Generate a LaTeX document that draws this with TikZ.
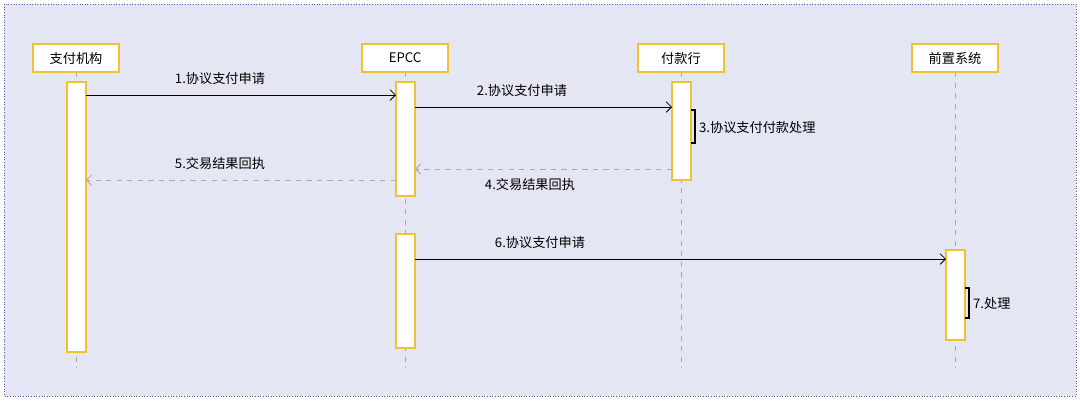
\documentclass[tikz,border=0pt]{standalone}
\usepackage{fontspec}
\setmainfont{Noto Sans CJK SC}
\usetikzlibrary{arrows.meta}
\definecolor{bg}{HTML}{E4E7F3}
\definecolor{yel}{HTML}{F2C12E}
\definecolor{ln}{HTML}{A8A8B0}
\tikzset{
 hdr/.style={draw=yel,fill=white,line width=0.6pt,minimum width=86*0.02cm,minimum height=28*0.02cm,inner sep=0pt,font=\fontsize{7.5}{8}\selectfont},
 act/.style={draw=yel,fill=white,line width=0.6pt},
 life/.style={draw=ln,dashed,line width=0.4pt},
 msg/.style={-{Straight Barb[length=3pt]},line width=0.5pt},
 ret/.style={-{Straight Barb[length=3pt]},ln,dashed,line width=0.5pt},
 lbl/.style={font=\fontsize{7.5}{8}\selectfont,inner sep=1pt},
}
\begin{document}
\begin{tikzpicture}[x=0.02cm,y=-0.02cm]
\useasboundingbox (0,0) rectangle (1080,400);
\draw[fill=bg,draw=gray!70!blue,densely dotted,line width=0.5pt] (4,4) rectangle (1076,396);
\foreach \x in {76,405,681,955} \draw[life] (\x,72) -- (\x,368);
\node[hdr] (h1) at (76,58) {支付机构};
\node[hdr] (h2) at (405,58) {EPCC};
\node[hdr] (h3) at (681,58) {付款行};
\node[hdr] (h4) at (955,58) {前置系统};
\draw[act] (67,82) rectangle (86,352);
\draw[act] (396,82) rectangle (415,196);
\draw[act] (396,234) rectangle (415,348);
\draw[act] (672,82) rectangle (691,180);
\draw[act] (946,250) rectangle (965,340);
\coordinate (a1) at (86,95); \coordinate (b1) at (396,95);
\draw[msg] (a1) -- (b1);
\node[lbl] (l1) at (220,79) {1.协议支付申请};
\coordinate (a2) at (415,107); \coordinate (b2) at (672,107);
\draw[msg] (a2) -- (b2);
\node[lbl] (l2) at (522,91) {2.协议支付申请};
\coordinate (a3) at (691,110); \coordinate (b3) at (691,143);
\draw[line width=0.7pt] (a3) -- ++(4,0) -- ++(0,33) -- (b3);
\node[lbl,anchor=west] (l3) at (697,128) {3.协议支付付款处理};
\coordinate (a4) at (672,169); \coordinate (b4) at (415,169);
\draw[ret] (a4) -- (b4);
\node[lbl] (l4) at (530,184) {4.交易结果回执};
\coordinate (a5) at (396,180); \coordinate (b5) at (86,180);
\draw[ret] (a5) -- (b5);
\node[lbl] (l5) at (220,163) {5.交易结果回执};
\coordinate (a6) at (415,259); \coordinate (b6) at (946,259);
\draw[msg] (a6) -- (b6);
\node[lbl] (l6) at (540,243) {6.协议支付申请};
\coordinate (a7) at (965,288); \coordinate (b7) at (965,318);
\draw[line width=0.7pt] (a7) -- ++(4,0) -- ++(0,30) -- (b7);
\node[lbl,anchor=west] (l7) at (971,304) {7.处理};
\end{tikzpicture}
\end{document}
